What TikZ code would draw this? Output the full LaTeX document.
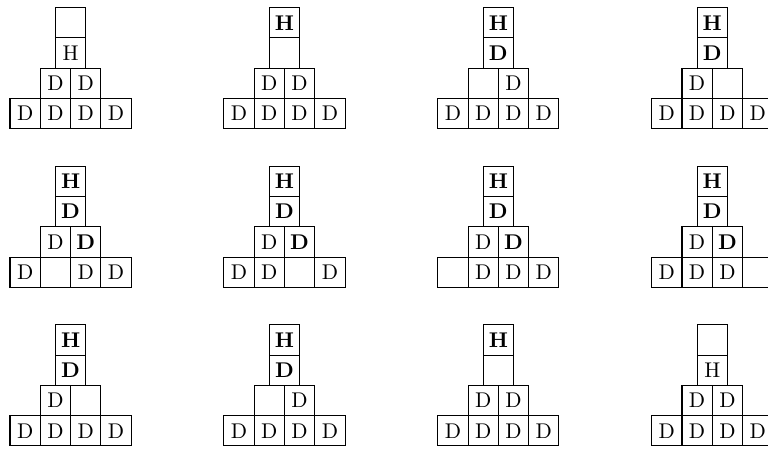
\documentclass[tikz,border=0pt]{standalone}
\usepackage{tikz}
\newcommand{\bD}{\textbf{D}}
\newcommand{\bH}{\textbf{H}}
\tikzset{
  cell/.style={draw,line width=0.5pt,minimum width=0.5cm,minimum height=0.5cm,
               inner sep=0pt,font=\normalsize}
}
\begin{document}
\begin{tikzpicture}[x=0.5cm,y=0.5cm]
    \path[use as bounding box] (0,0) rectangle (25.35,14.82);
    % column/row, then bottom row b1..b4, middle m1 m2, stem t, top p
    \foreach \c/\r/\ba/\bb/\bc/\bd/\ma/\mb/\st/\tp [count=\k] in {
        0/0/D/D/D/D/D/D/H/{},
        1/0/D/D/D/D/D/D/{}/\bH,
        2/0/D/D/D/D/{}/D/\bD/\bH,
        3/0/D/D/D/D/D/{}/\bD/\bH,
        0/1/D/{}/D/D/D/\bD/\bD/\bH,
        1/1/D/D/{}/D/D/\bD/\bD/\bH,
        2/1/{}/D/D/D/D/\bD/\bD/\bH,
        3/1/D/D/D/{}/D/\bD/\bD/\bH,
        0/2/D/D/D/D/D/{}/\bD/\bH,
        1/2/D/D/D/D/{}/D/\bD/\bH,
        2/2/D/D/D/D/D/D/{}/\bH,
        3/2/D/D/D/D/D/D/H/{}} {
      \begin{scope}[shift={({0.33+7.06*\c},{0.10+5.235*(2-\r)})}]
        \node[cell] (p\k-b1) at (0.5,0.5) {\ba};
        \node[cell] (p\k-b2) at (1.5,0.5) {\bb};
        \node[cell] (p\k-b3) at (2.5,0.5) {\bc};
        \node[cell] (p\k-b4) at (3.5,0.5) {\bd};
        \node[cell] (p\k-m1) at (1.5,1.5) {\ma};
        \node[cell] (p\k-m2) at (2.5,1.5) {\mb};
        \node[cell] (p\k-st) at (2,2.5) {\st};
        \node[cell] (p\k-tp) at (2,3.5) {\tp};
      \end{scope}
    }
\end{tikzpicture}
\end{document}
